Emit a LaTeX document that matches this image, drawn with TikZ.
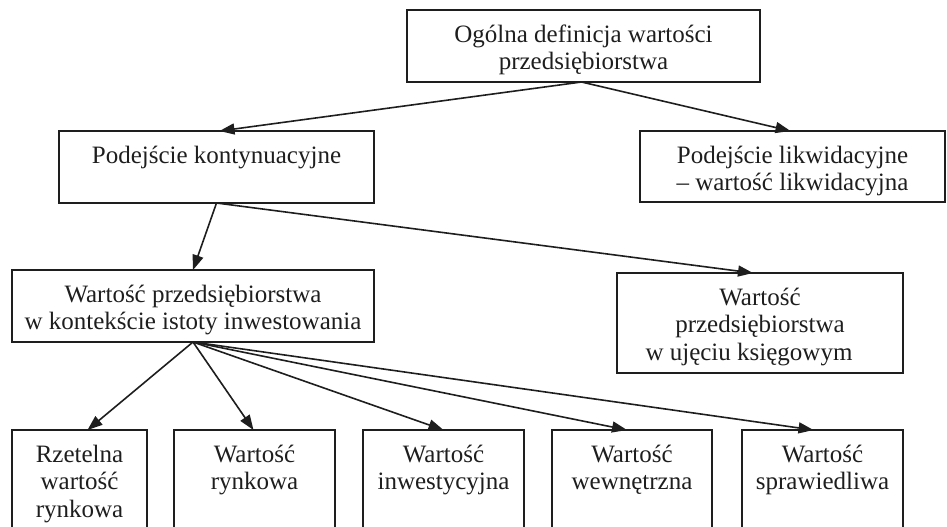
\documentclass[tikz,border=0pt]{standalone}
\usepackage{fontspec}
\setmainfont{Liberation Serif}
\usetikzlibrary{arrows.meta}

% Box contents: width, height, lines (first baseline 32pt below the top edge)
\newcommand\boxtxt[3]{\parbox[c][#2][t]{#1}{\centering\rule{0pt}{32pt}#3\par}}

\tikzset{
  box/.style={draw=ink, line width=1.6pt, rectangle, inner sep=0pt, outer sep=0pt,
              anchor=north west, font=\fontsize{25}{27.5}\selectfont, text=ink},
  link/.style={draw=ink, line width=1.6pt, -{Triangle[length=15pt,width=11pt]}}
}
\definecolor{ink}{HTML}{1E1E1E}

\begin{document}
\begin{tikzpicture}[x=1pt, y=-1pt]
\useasboundingbox (0,0) rectangle (947,527);
\clip (0,0) rectangle (947,527);

% upper levels
\node[box] (def) at (407,10)  {\boxtxt{353pt}{72pt}{Ogólna definicja wartości\\przedsiębiorstwa}};
\node[box] (kon) at (59,131)  {\boxtxt{315pt}{72pt}{Podejście kontynuacyjne}};
\node[box] (lik) at (640,131) {\boxtxt{305pt}{71pt}{Podejście likwidacyjne\\– wartość likwidacyjna}};
\node[box] (inw) at (12,270)  {\boxtxt{362pt}{72pt}{Wartość przedsiębiorstwa\\w kontekście istoty inwestowania}};
\node[box] (ksi) at (617,273) {\boxtxt{286pt}{100pt}{Wartość\\przedsiębiorstwa\hspace*{22pt}\\w ujęciu księgowym\hspace*{22pt}}};

% bottom level
\node[box] (rze) at (12,430)  {\boxtxt{135pt}{115pt}{Rzetelna\\wartość\\rynkowa}};
\node[box] (ryn) at (174,430) {\boxtxt{161pt}{115pt}{Wartość\\rynkowa}};
\node[box] (ivs) at (363,430) {\boxtxt{161pt}{115pt}{Wartość\\inwestycyjna}};
\node[box] (wew) at (552,430) {\boxtxt{160pt}{115pt}{Wartość\\wewnętrzna}};
\node[box] (spr) at (742,430) {\boxtxt{161pt}{115pt}{Wartość\\sprawiedliwa}};

% connectors
\draw[link] ([xshift=-2pt]def.south) -- ([xshift=3pt]kon.north);
\draw[link] ([xshift=-2pt]def.south) -- ([xshift=-2pt]lik.north);
\draw[link] (kon.south) -- (inw.north);
\draw[link] (kon.south) -- ([xshift=-7pt]ksi.north);
\draw[link] (inw.south) -- ([xshift=8pt]rze.north);
\draw[link] (inw.south) -- ([xshift=-1pt]ryn.north);
\draw[link] (inw.south) -- (ivs.north);
\draw[link] (inw.south) -- ([xshift=-5pt]wew.north);
\draw[link] (inw.south) -- ([xshift=-9pt]spr.north);
\end{tikzpicture}
\end{document}
